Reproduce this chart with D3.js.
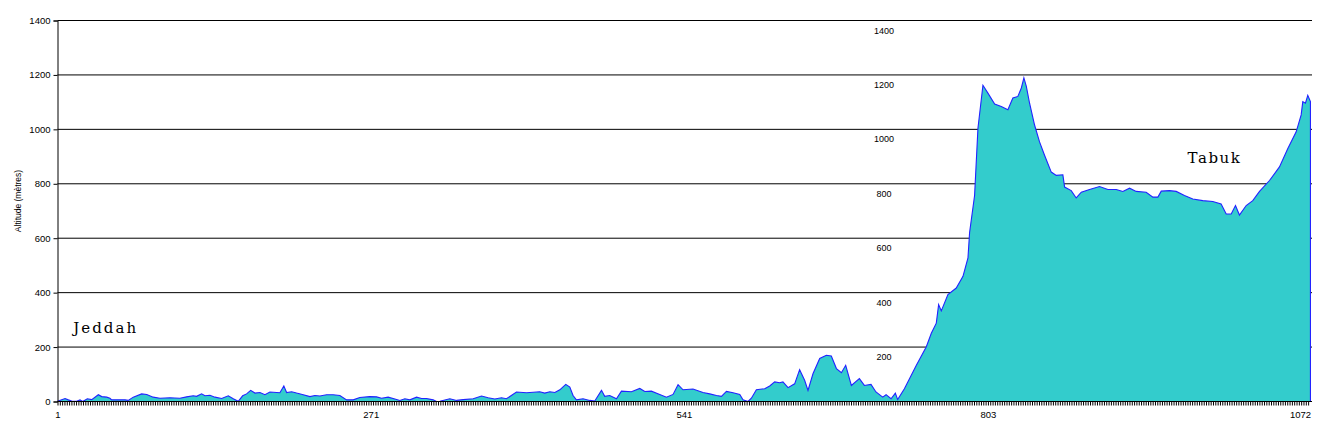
<!DOCTYPE html>
<html>
<head>
<meta charset="utf-8">
<script src="https://cdn.jsdelivr.net/npm/d3@7"></script>
<style>
  html, body { margin: 0; padding: 0; background: #fff; }
  svg { display: block; }
</style>
</head>
<body>
<svg id="chart" width="1331" height="436"></svg>
<script>
// Distance along the route (km)
const distance = [1,7.5,10.3,13.2,17.5,20.4,22.7,26.7,30.5,36.2,39.1,43.4,46.2,47.7,59.2,62,66.3,73.5,77.9,83.5,89.3,97.9,106.5,112.3,118,120.9,125.2,128.1,132.4,136.7,142.5,148.2,152.5,156.8,160.6,164,167.5,171.2,175.5,179.8,184.1,189.9,192.7,196.1,198.5,202.8,207.1,212.8,218.6,222.9,227.2,232.9,238.6,244.4,250.2,255.9,261.6,270.2,276,280.3,286,291.8,296.1,300.4,304.7,310.5,314.8,319.1,324.8,327.7,
  330.6,339.2,345,350.7,359.3,366.5,372.2,377.9,383.7,388,396.6,405.3,416.7,421,425.4,429.7,434,439.1,442.6,445.4,448.3,454,459.8,464.1,469.9,472.7,477,482.8,487.1,495.7,502.9,507.2,512.9,520.1,525.9,531.6,535.9,540.2,548.8,557.4,563.2,569,573.3,577.6,583.3,589.1,591.9,596.2,599.1,603.4,610.6,614.9,619.2,623.5,626.3,630.7,636.4,640.7,645,647.9,652.2,658,663.7,668,672.4,676.7,680.4,685.3,
  692.2,696.5,702.2,706.5,712.3,715.2,719.5,723.2,725.2,731,741.3,749.9,754.2,758.5,760.5,762.8,768.5,775.7,781.5,785.8,787.2,791.5,794.4,798.7,803,808.8,814.5,820.2,824.5,828.8,831.8,834,836.1,838.9,843.2,847.5,851.8,857.6,861.9,867.6,869.1,874.8,879.1,883.5,890.6,899.2,906.4,913.6,919.3,925.1,930.8,939.4,945.2,949.5,952.4,959.5,965.3,972.4,979.6,988.2,996.8,1004,1008.4,1012.7,1016.4,1019.8,1025.6,1031.3,1037.1,1045.7,1054.3,1061.5,1068.7,1073,1074.4,1076.7,1078.7,1081];
// Altitude (metres)
const altitude = [1,11,6,2,1,6,0,10,7,25,18,16,12,6,6,4,16,28,26,16,12,14,12,17,21,19,28,21,23,16,11,21,10,1,21,28,41,31,33,25,35,33,32,57,33,36,31,25,18,22,20,25,25,22,6,6,15,18,17,12,16,9,4,10,6,16,11,11,6,0,
  1,10,4,7,10,20,14,9,14,10,35,32,36,31,36,33,43,63,53,22,6,10,4,2,41,19,22,10,38,36,48,37,38,26,16,26,62,43,46,33,28,22,19,37,32,26,6,0,12,43,47,57,72,69,72,51,65,117,78,41,102,158,170,167,121,106,133,59,
  84,59,63,35,16,25,10,31,7,47,133,201,251,288,356,333,393,417,460,528,621,757,1004,1162,1133,1093,1084,1072,1115,1121,1152,1189,1158,1096,1016,954,905,843,831,833,788,775,748,769,779,790,779,779,772,784,772,769,751,751,773,775,772,757,744,738,735,726,689,689,720,685,720,738,772,812,862,930,991,1053,1102,1096,1125,1102];

const yTicks = [0,200,400,600,800,1000,1200,1400];
const xTickLabels = [1,271,541,803,1072];
const midLabels = [200,400,600,800,1000,1200,1400];
const places = [{name:"Jeddah", km:14.5, alt:252}, {name:"Tabuk", km:975, alt:876}];

const data = distance.map((d,i) => ({km:d, alt:altitude[i]}));

const svg = d3.select("#chart");
const x = d3.scaleLinear().domain([1,1072]).range([57.5,1300]);
const y = d3.scaleLinear().domain([0,1400]).range([401.5,20.5]);
const xEnd = 1312;
const sans = "'Liberation Sans', Arial, sans-serif";

// gridlines
svg.append("g").selectAll("line").data(yTicks.filter(v=>v>0)).join("line")
  .attr("x1",57.5).attr("x2",xEnd).attr("y1",d=>y(d)).attr("y2",d=>y(d))
  .attr("stroke","#000").attr("stroke-width",1);

// area
svg.append("path").datum(data)
  .attr("fill","#33CCCC")
  .attr("d", d3.area().x(d=>x(d.km)).y0(y(0)).y1(d=>y(d.alt)));
const lineData = data.concat([{km:distance[distance.length-1], alt:0}]);
svg.append("path").datum(lineData)
  .attr("fill","none").attr("stroke","#2222FF").attr("stroke-width",1.1)
  .attr("d", d3.line().x(d=>x(d.km)).y(d=>y(d.alt)));

// x ticks hatch
const hatch = svg.append("g").attr("transform",`translate(0,${y(0)})`)
  .call(d3.axisBottom(x).tickValues(d3.range(1,1081,2)).tickSize(4).tickFormat(""));
hatch.select(".domain").remove();
hatch.selectAll("line").attr("stroke","#000");

// x labels
const xl = svg.append("g").attr("transform",`translate(0,${y(0)})`)
  .call(d3.axisBottom(x).tickValues(xTickLabels).tickSize(0).tickPadding(10).tickFormat(d3.format("d")));
xl.select(".domain").remove();
xl.selectAll("text").attr("fill","#000").style("font-size","9.5px").style("font-family",sans);

// baseline
svg.append("line").attr("x1",57.5).attr("x2",xEnd).attr("y1",y(0)).attr("y2",y(0)).attr("stroke","#000");

// y axis
const ya = svg.append("g").attr("transform","translate(57.5,0)")
  .call(d3.axisLeft(y).tickValues(yTicks).tickSize(4).tickPadding(3).tickFormat(d3.format("d")));
ya.select(".domain").attr("stroke","#000");
ya.selectAll("text").attr("fill","#000").style("font-size","9.5px").style("font-family",sans);

// axis title
svg.append("text").attr("transform","translate(21,201) rotate(-90)")
  .attr("text-anchor","middle").style("font-size","8.5px").style("font-family",sans)
  .text("Altitude (mètres)");

// mid labels
svg.append("g").selectAll("text").data(midLabels).join("text")
  .attr("x",884).attr("y",d=>y(d)+13).attr("text-anchor","middle")
  .style("font-size","9px").style("font-family",sans).text(d=>d);

// place names
svg.append("g").selectAll("text").data(places).join("text")
  .attr("x",d=>x(d.km)).attr("y",d=>y(d.alt))
  .attr("textLength",d=>d.name.length*10.5).attr("lengthAdjust","spacing")
  .style("font-family","'DejaVu Serif', 'Liberation Serif', serif")
  .style("font-size","15px").text(d=>d.name);
</script>
</body>
</html>
